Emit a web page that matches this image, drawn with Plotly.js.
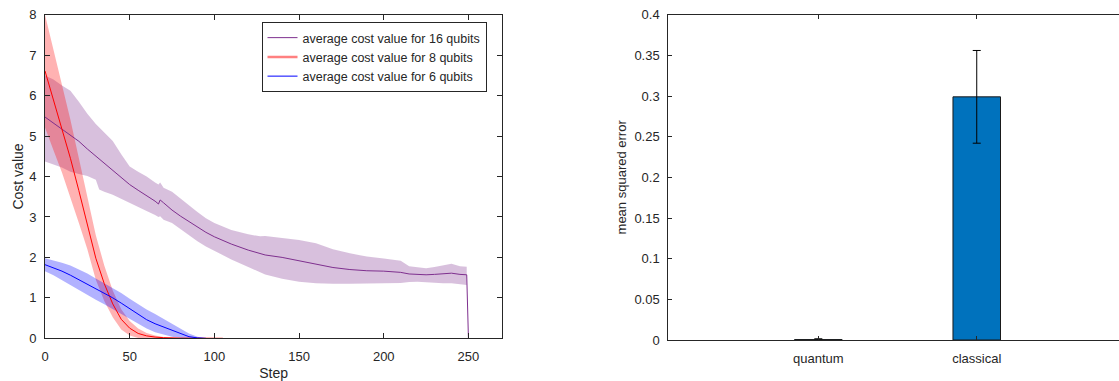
<!DOCTYPE html>
<html>
<head>
<meta charset="utf-8">
<script src="https://cdn.plot.ly/plotly-3.0.1.min.js"></script>
<style>html,body{margin:0;padding:0;background:#fff;overflow:hidden;}#chart{width:1119px;height:381px;}</style>
</head>
<body>
<div id="chart"></div>
<script>
// ---- 16 qubits (purple) ----
const purpleStep  = [0,5,10,15,20,25,30,32,35,40,45,50,55,60,65,67,68,70,75,80,85,90,95,100,110,120,127,130,140,150,160,170,180,190,200,210,215,220,225,230,235,240,245,249,250];
const purpleMean  = [5.47,5.32,5.18,5.03,4.87,4.68,4.50,4.43,4.33,4.14,3.97,3.80,3.66,3.53,3.39,3.32,3.42,3.35,3.17,3.02,2.88,2.75,2.62,2.51,2.33,2.18,2.09,2.06,2.00,1.92,1.84,1.75,1.70,1.67,1.66,1.63,1.59,1.58,1.57,1.58,1.60,1.61,1.58,1.57,0];
const purpleUpper = [6.50,6.40,6.25,6.12,5.85,5.55,5.30,5.22,5.10,4.88,4.55,4.25,4.12,4.00,3.85,3.80,3.85,3.72,3.62,3.45,3.28,3.12,2.97,2.85,2.68,2.57,2.52,2.53,2.48,2.43,2.35,2.20,2.10,2.02,1.97,1.92,1.78,1.75,1.73,1.76,1.80,1.84,1.78,1.77];
const purpleLower = [4.37,4.30,4.22,4.12,4.06,4.01,3.92,3.68,3.62,3.55,3.45,3.37,3.25,3.15,3.05,3.00,3.02,2.93,2.85,2.70,2.55,2.40,2.27,2.15,1.95,1.76,1.63,1.58,1.47,1.40,1.36,1.35,1.35,1.35,1.36,1.37,1.39,1.40,1.38,1.37,1.36,1.36,1.34,1.32];

// ---- 8 qubits (red) ----
const redStep  = [0,5,10,15,20,25,30,35,40,45,50,55,60,65,70,80,90,105];
const redMean  = [6.61,5.90,5.20,4.45,3.65,2.85,1.98,1.35,0.85,0.47,0.25,0.12,0.06,0.03,0.015,0.005,0.002,0.0];
const redUpper = [8.00,7.15,6.30,5.40,4.45,3.50,2.55,1.80,1.18,0.72,0.43,0.24,0.13,0.07,0.035,0.01,0.004,0];
const redLower = [5.21,4.65,4.10,3.50,2.85,2.20,1.45,0.92,0.52,0.22,0.07,0.01,0,0,0,0,0,0];

// ---- 6 qubits (blue) ----
const blueStep  = [0,5,10,15,20,25,30,35,40,45,50,55,60,65,70,75,80,85,90,95];
const blueMean  = [1.82,1.74,1.66,1.56,1.45,1.33,1.21,1.10,1.00,0.87,0.73,0.59,0.46,0.36,0.28,0.19,0.11,0.04,0.01,0.0];
const blueUpper = [1.98,1.93,1.87,1.80,1.71,1.60,1.48,1.36,1.25,1.12,0.98,0.84,0.71,0.60,0.48,0.36,0.24,0.12,0.04,0];
const blueLower = [1.66,1.56,1.45,1.33,1.20,1.07,0.95,0.84,0.74,0.62,0.49,0.36,0.24,0.15,0.09,0.04,0.01,0,0,0];

const legendNames = ['average cost value for 16 qubits','average cost value for 8 qubits','average cost value for 6 qubits'];

// ---- right panel: bars ----
const methods = ['quantum','classical'];
const mse     = [0.0005, 0.299];
const mseErr  = [0.001, 0.057];

function band(steps, upper, lower, fillcolor){
  const n = upper.length;
  const xs = steps.slice(0,n);
  return {
    x: xs.concat(xs.slice().reverse()),
    y: upper.concat(lower.slice().reverse()),
    type:'scatter', mode:'lines', fill:'toself', fillcolor: fillcolor,
    line:{width:0, color:'rgba(0,0,0,0)'}, hoverinfo:'skip', showlegend:false,
    xaxis:'x', yaxis:'y'
  };
}

const PURPLE = '#7E2F8E';
const traces = [
  band(purpleStep, purpleUpper, purpleLower, 'rgba(126,47,142,0.30)'),
  band(redStep, redUpper, redLower, 'rgba(255,0,0,0.30)'),
  band(blueStep, blueUpper, blueLower, 'rgba(0,0,255,0.30)'),
  {x: purpleStep, y: purpleMean, type:'scatter', mode:'lines', line:{color:PURPLE, width:1},
   name: legendNames[0], legendrank:1, xaxis:'x', yaxis:'y'},
  {x: redStep, y: redMean, type:'scatter', mode:'lines', line:{color:'#FF0000', width:1},
   name: legendNames[1], showlegend:false, xaxis:'x', yaxis:'y'},
  {x: [null], y: [null], type:'scatter', mode:'lines', line:{color:'rgb(255,128,128)', width:2.5},
   name: legendNames[1], legendrank:2, xaxis:'x', yaxis:'y'},
  {x: blueStep, y: blueMean, type:'scatter', mode:'lines', line:{color:'#0000FF', width:1},
   name: legendNames[2], legendrank:3, xaxis:'x', yaxis:'y'},
  {x: methods, y: mse, type:'bar', width:0.3, showlegend:false,
   marker:{color:'#0072BD', line:{color:'#1a1a1a', width:1}},
   error_y:{type:'data', array: mseErr, visible:true, color:'#000000', thickness:1, width:4},
   xaxis:'x2', yaxis:'y2'}
];

const TXT = '#262626';
const FONT = 'Liberation Sans, Arial, Helvetica, sans-serif';
const axisCommon = {
  showline:true, linecolor:TXT, linewidth:1, ticks:'inside', ticklen:5, tickcolor:TXT, tickwidth:1,
  showgrid:false, zeroline:false, tickfont:{family:FONT, size:13, color:TXT}, automargin:false
};

const layout = {
  width:1119, height:381,
  margin:{l:0, r:0, t:0, b:0},
  paper_bgcolor:'#ffffff', plot_bgcolor:'#ffffff',
  font:{family:FONT, color:TXT},
  showlegend:true,
  legend:{x:261.5/1119, y:(381-22)/381, xanchor:'left', yanchor:'top',
          bgcolor:'#ffffff', bordercolor:TXT, borderwidth:1,
          font:{family:FONT, size:12.5, color:TXT}, itemwidth:30, tracegroupgap:0},
  xaxis: Object.assign({}, axisCommon, {
    domain:[45/1119, 502.3/1119], range:[0,270], tickmode:'linear', tick0:0, dtick:50,
    mirror:'ticks', ticklabelstandoff:6,
    title:{text:'Step', font:{family:FONT, size:14, color:TXT}, standoff:5}
  }),
  yaxis: Object.assign({}, axisCommon, {
    domain:[(381-338.3)/381, (381-14.7)/381], range:[0,8], tickmode:'linear', tick0:0, dtick:1,
    mirror:'ticks', ticklabelstandoff:5,
    title:{text:'Cost value', font:{family:FONT, size:14, color:TXT}, standoff:2}
  }),
  xaxis2: Object.assign({}, axisCommon, {
    domain:[668.3/1119, 1], range:[-0.947, 1.898], type:'category',
    mirror:'ticks', ticklen:4, ticklabelstandoff:6, anchor:'y2'
  }),
  yaxis2: Object.assign({}, axisCommon, {
    domain:[(381-340)/381, (381-14.7)/381], range:[0,0.4], tickmode:'linear', tick0:0, dtick:0.05,
    ticklen:4, ticklabelstandoff:5, anchor:'x2', mirror:false,
    title:{text:'mean squared error', font:{family:FONT, size:13, color:TXT}, standoff:4}
  })
};

Plotly.newPlot('chart', traces, layout, {displayModeBar:false, staticPlot:true});
</script>
</body>
</html>
